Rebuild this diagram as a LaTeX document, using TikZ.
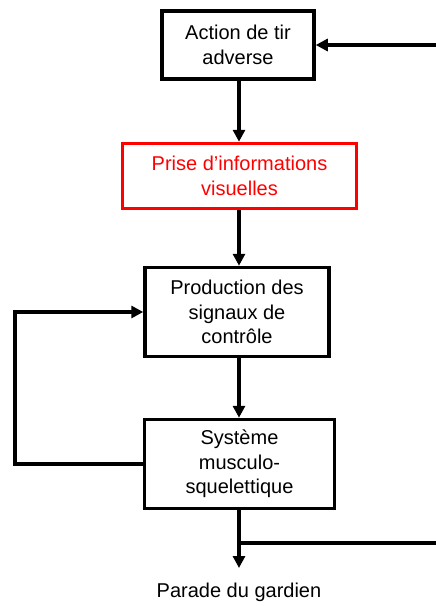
\documentclass[tikz,border=0pt]{standalone}
\usepackage{fontspec}
\setmainfont{Liberation Sans}
\usetikzlibrary{arrows.meta}
\begin{document}
\begin{tikzpicture}[x=1pt,y=-1pt,
  box/.style={draw=black,line width=3.5pt,fill=white,align=center,inner sep=0pt,
    font=\fontsize{20}{24.5}\selectfont},
  redbox/.style={box,draw=red,text=red},
  conn/.style={line width=3.5pt},
  arr/.style={conn,-{Triangle[length=12pt,width=12pt]}}]
\useasboundingbox (0,0) rectangle (436,606);
\node[box,minimum width=152pt,minimum height=68pt] (a) at (238,45) {Action de tir\\adverse};
\node[redbox,minimum width=234pt,minimum height=65pt] (b) at (239.5,176) {Prise d’informations\\visuelles};
\node[box,minimum width=184pt,minimum height=89pt] (c) at (237,312) {Production des\\signaux de\\contrôle};
\node[box,minimum width=190pt,minimum height=89pt] (d) at (239.5,464) {Système\\musculo-\\squelettique};
\node[font=\fontsize{20}{24.5}\selectfont,inner sep=0pt] (e) at (239,592) {Parade du gardien};
\coordinate (rin) at (436,45);
\coordinate (lt) at (15,312);
\coordinate (lb) at (15,464);
\coordinate (br) at (239,543);
\coordinate (bend) at (239,568);
\coordinate (rout) at (436,543);
\draw[arr] (rin) -- (a.east);
\draw[arr] (a.south -| 239,0) -- (b.north -| 239,0);
\draw[arr] (b.south -| 239,0) -- (c.north -| 239,0);
\draw[arr] (c.south -| 239,0) -- (d.north -| 239,0);
\draw[arr] (d.west) -- (lb) -- (lt) -- (c.west);
\draw[arr] (d.south -| 239,0) -- (bend);
\draw[conn] (br) -- (rout);
\end{tikzpicture}
\end{document}
